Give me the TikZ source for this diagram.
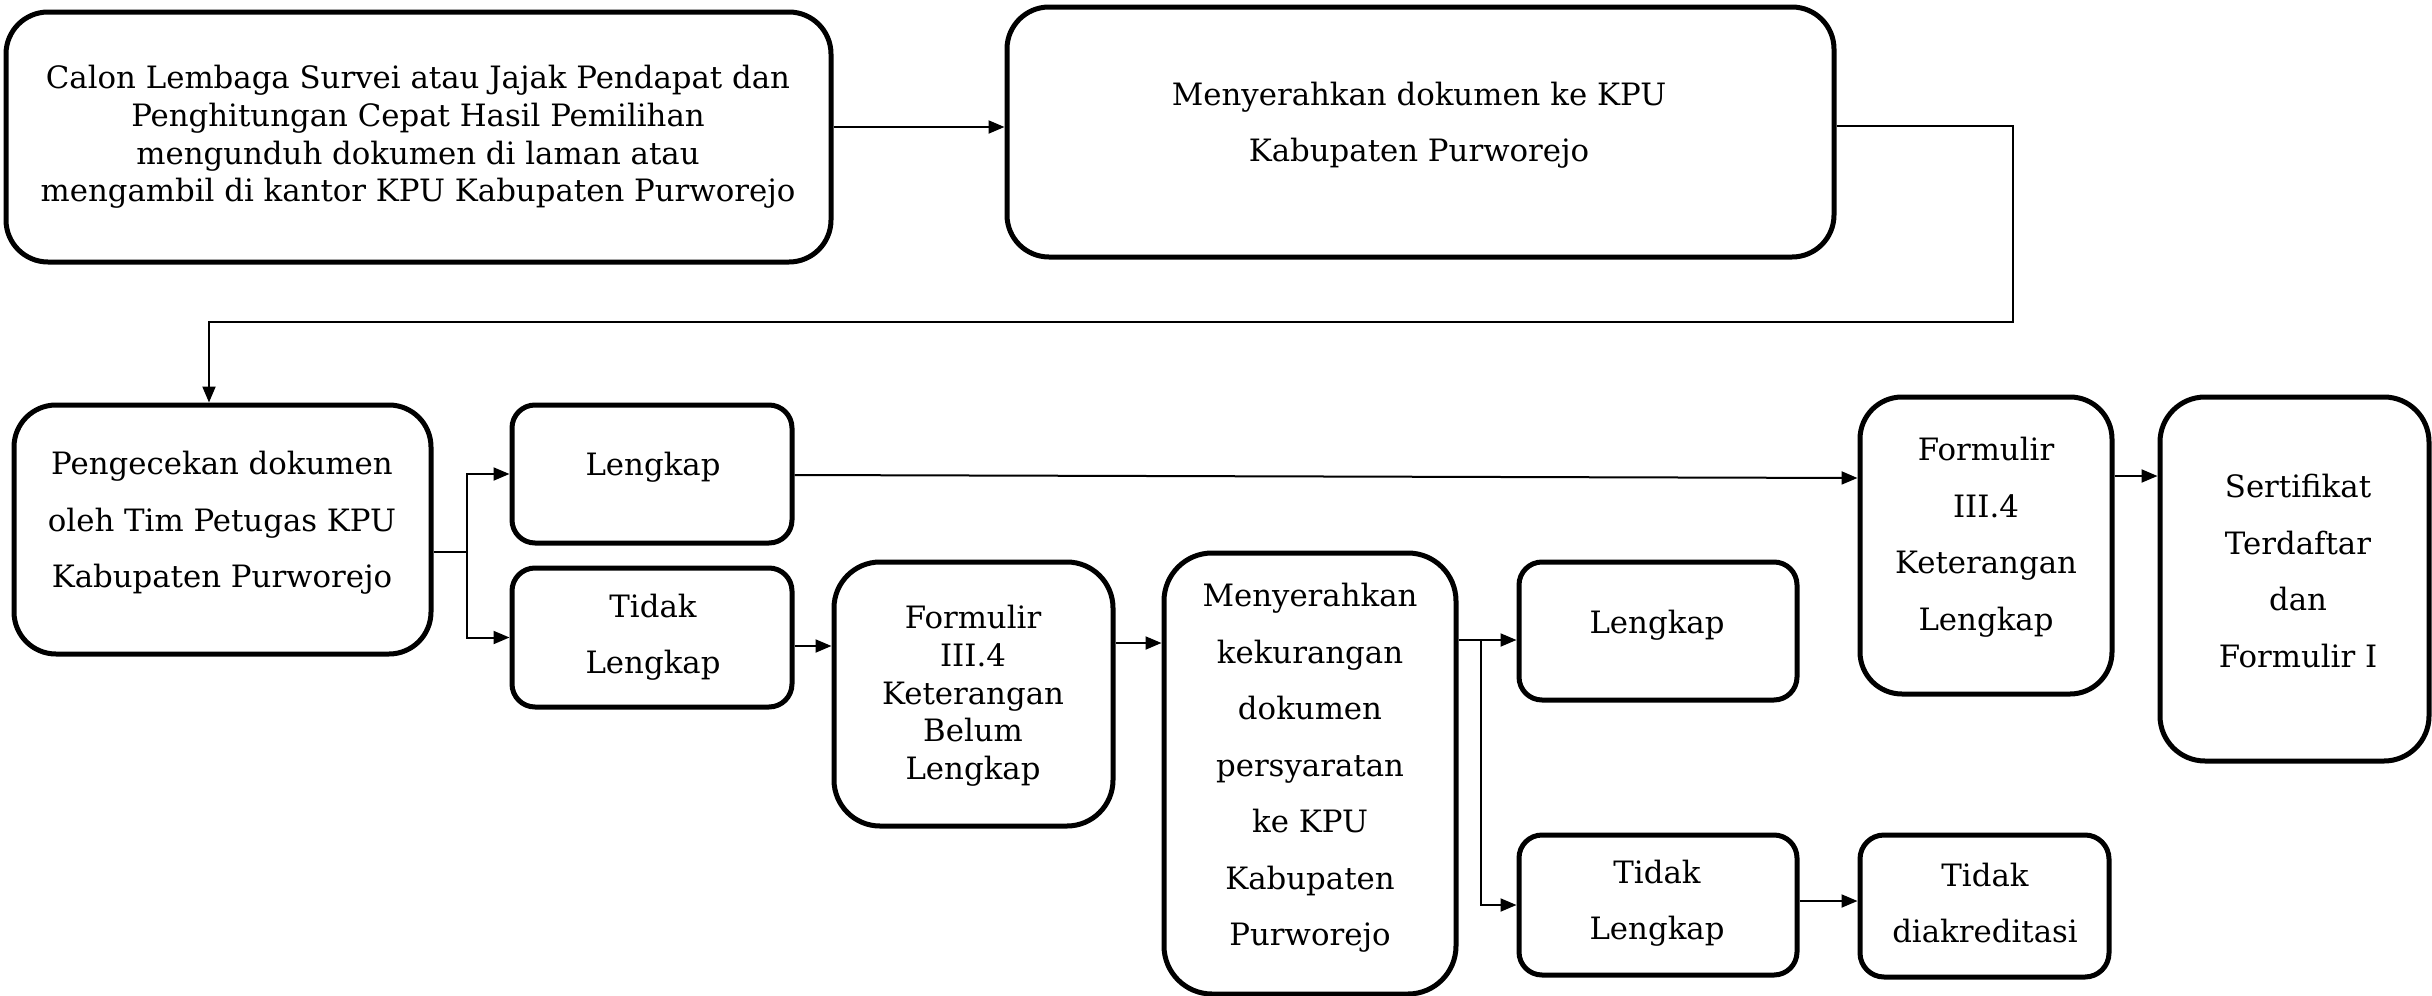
\documentclass[tikz,border=0pt]{standalone}
\usepackage{fontspec}
\setmainfont{DejaVu Serif}
\usetikzlibrary{arrows.meta}
\newcommand\fsingle{\fontsize{15.4pt}{18.85pt}\selectfont}
\newcommand\fwide{\fontsize{15.4pt}{28.25pt}\selectfont}
\tikzset{
  box/.style={draw, line width=2.5pt, inner sep=0pt},
  txt/.style={align=center, inner sep=0pt, font=\fsingle},
  txtw/.style={align=center, inner sep=0pt, font=\fwide},
  ln/.style={line width=1pt},
  arr/.style={line width=1pt, -{Triangle[length=8pt,width=6.5pt]}},
}
\begin{document}
\begin{tikzpicture}[x=0.5pt,y=-0.5pt]
\useasboundingbox[fill=white] (0,0) rectangle (2432,996);
% boxes
\node[box, rounded corners=21pt, minimum width=412.5pt, minimum height=125pt] (b1) at (418.5,137) {};
\node[box, rounded corners=21pt, minimum width=413.5pt, minimum height=125pt] (b2) at (1420.5,132) {};
\node[box, rounded corners=21pt, minimum width=208.5pt, minimum height=124.5pt] (b3) at (222.5,529.5) {};
\node[box, rounded corners=11.5pt, minimum width=140pt, minimum height=69pt] (l1) at (652,474) {};
\node[box, rounded corners=11.5pt, minimum width=140pt, minimum height=69.5pt] (t1) at (652,637.5) {};
\node[box, rounded corners=23pt, minimum width=139.5pt, minimum height=132pt] (fb) at (973.5,694) {};
\node[box, rounded corners=24pt, minimum width=146pt, minimum height=220.5pt] (mk) at (1310,773.5) {};
\node[box, rounded corners=11.5pt, minimum width=139pt, minimum height=69pt] (l2) at (1658,631) {};
\node[box, rounded corners=11.5pt, minimum width=139pt, minimum height=70pt] (t2) at (1658,905) {};
\node[box, rounded corners=12pt, minimum width=124.5pt, minimum height=71pt] (td) at (1984.5,906) {};
\node[box, rounded corners=21pt, minimum width=126pt, minimum height=148.5pt] (fl) at (1986,545.5) {};
\node[box, rounded corners=22.5pt, minimum width=134.5pt, minimum height=182pt] (sf) at (2294.5,579) {};
% texts
\node[txt] (b1t) at (418,137) {Calon Lembaga Survei atau Jajak Pendapat dan\\Penghitungan Cepat Hasil Pemilihan\\mengunduh dokumen di laman atau\\mengambil di kantor KPU Kabupaten Purworejo};
\node[txtw] (b2t) at (1419,125) {Menyerahkan dokumen ke KPU\\Kabupaten Purworejo};
\node[txtw] (b3t) at (222,523) {Pengecekan dokumen\\oleh Tim Petugas KPU\\Kabupaten Purworejo};
\node[txtw] (l1t) at (653,467) {Lengkap};
\node[txtw] (t1t) at (653,637) {Tidak\\Lengkap};
\node[txt] (fbt) at (973,696) {Formulir\\III.4\\Keterangan\\Belum\\Lengkap};
\node[txtw] (mkt) at (1310,768) {Menyerahkan\\kekurangan\\dokumen\\persyaratan\\ke KPU\\Kabupaten\\Purworejo};
\node[txtw] (l2t) at (1657,625) {Lengkap};
\node[txtw] (t2t) at (1657,903) {Tidak\\Lengkap};
\node[txtw] (tdt) at (1985,903) {Tidak\\diakreditasi};
\node[txtw] (flt) at (1986,537) {Formulir\\III.4\\Keterangan\\Lengkap};
\node[txtw] (sft) at (2298,571) {Sertifikat\\Terdaftar\\dan\\Formulir I};
% helper coordinates
\coordinate (y127) at (0,127);
\coordinate (c1) at (2013,126);
\coordinate (c2) at (2013,322);
\coordinate (c3) at (209,322);
\coordinate (s1) at (467,552);
\coordinate (y646) at (0,646);
\coordinate (y643) at (0,643);
\coordinate (y640) at (0,640);
\coordinate (s2) at (1481,640);
\coordinate (y901) at (0,901);
\coordinate (y475) at (0,475);
\coordinate (y478) at (0,478);
\coordinate (y476) at (0,476);
% connectors
\draw[arr] (b1.east|-y127) -- (b2.west|-y127);
\draw[arr] (b2.east|-c1) -- (c1) -- (c2) -- (c3) -- (c3|-b3.north);
\draw[ln] (b3.east|-s1) -- (s1);
\draw[arr] (s1) |- (l1.west);
\draw[arr] (s1) |- (t1.west);
\draw[arr] (t1.east|-y646) -- (fb.west|-y646);
\draw[arr] (fb.east|-y643) -- (mk.west|-y643);
\draw[arr] (mk.east|-y640) -- (l2.west|-y640);
\draw[arr] (s2) |- (t2.west);
\draw[arr] (t2.east|-y901) -- (td.west|-y901);
\draw[arr] (l1.east|-y475) -- (fl.west|-y478);
\draw[arr] (fl.east|-y476) -- (sf.west|-y476);
\end{tikzpicture}
\end{document}
